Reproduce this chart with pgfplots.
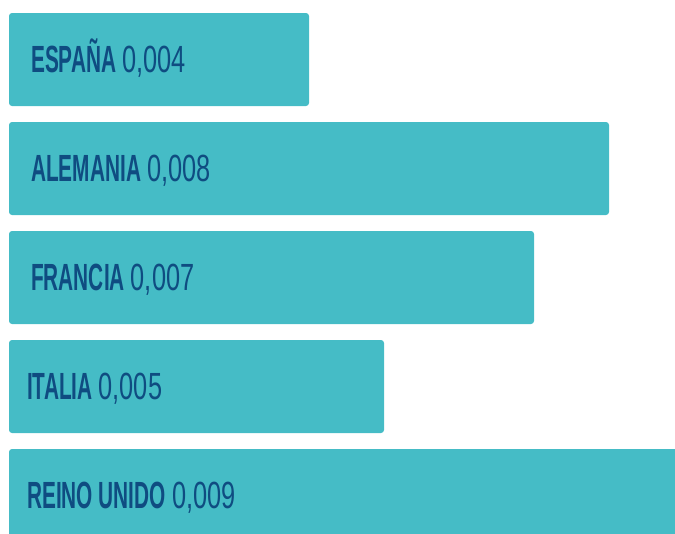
\documentclass[border=0pt]{standalone}
\usepackage{pgfplots}
\pgfplotsset{compat=1.18}
\usepackage{fontspec}
\setmainfont{Liberation Sans}
\newfontfamily\nmfont[FakeStretch=0.55]{Liberation Sans}
\newfontfamily\vlfont[FakeStretch=0.67]{Liberation Sans}
\newcommand\nm[1]{{\nmfont\bfseries #1}}
\newcommand\vl[1]{{\vlfont #1}}
\definecolor{barc}{HTML}{45BCC6}
\definecolor{txtc}{HTML}{0F4C81}
\begin{document}
\begin{tikzpicture}
\begin{axis}[
  scale only axis, width=675bp, height=534bp,
  hide axis,
  xmin=-0.00012, xmax=0.00888,
  ymin=-0.5459, ymax=4.3532,
  y dir=reverse,
]
\path (rel axis cs:0,0) rectangle (rel axis cs:1,1);
\addplot[xbar, bar width=93bp, fill=barc, draw=none, rounded corners=3bp]
  coordinates {(0.004,0) (0.008,1) (0.007,2) (0.005,3) (0.009,4)};
\addplot[draw=none, mark=none, nodes near coords, point meta=explicit symbolic,
  nodes near coords style={anchor=base west, inner sep=0pt, yshift=-13bp,
    text=txtc, font=\fontsize{38}{38}\selectfont}]
  coordinates {
    (0.000293,0) [{\nm{ESPAÑA}\hspace{6bp}\vl{0,004}}]
    (0.000293,1) [{\nm{ALEMANIA}\hspace{6bp}\vl{0,008}}]
    (0.000293,2) [{\nm{FRANCIA}\hspace{6bp}\vl{0,007}}]
    (0.00024,3) [{\nm{ITALIA}\hspace{6bp}\vl{0,005}}]
    (0.00024,4) [{\nm{REINO UNIDO}\hspace{6bp}\vl{0,009}}]
  };
\end{axis}
\end{tikzpicture}
\end{document}
